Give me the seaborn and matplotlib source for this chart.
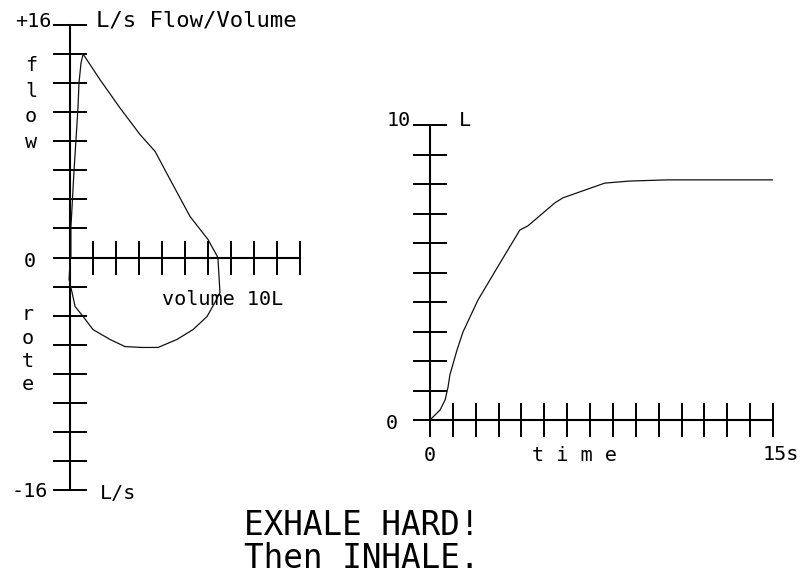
import matplotlib
matplotlib.use("Agg")
import matplotlib.pyplot as plt
import numpy as np
import pandas as pd
import seaborn as sns

# ---- data ----
# flow/volume loop (volume in L, flow in L/s)
fv_volume = [0.00, 0.04, 0.04, 0.09, 0.17, 0.26, 0.35, 0.39, 0.48, 0.57,
             1.30, 2.17, 3.04, 3.70, 4.35, 5.22, 6.00, 6.43,
             6.52, 6.30, 5.96, 5.35, 4.65, 3.83, 3.13, 2.39, 1.74, 1.00,
             0.57, 0.22, 0.09, -0.04, 0.00]
fv_flow = [0.00, 0.00, 2.10, 3.50, 5.85, 8.10, 10.40, 12.00, 13.40, 14.00,
           12.25, 10.30, 8.47, 7.30, 5.37, 2.82, 1.24, 0.00,
           -2.41, -3.10, -4.06, -4.96, -5.64, -6.19, -6.19, -6.13, -5.64, -4.96,
           -4.06, -3.37, -2.41, -1.51, -0.34]

# volume/time curve (time in s, volume in L)
vt_time = [0.00, 0.44, 0.66, 0.79, 0.87, 1.18, 1.44, 2.10, 3.06, 3.93, 4.28,
           5.46, 5.81, 7.64, 8.73, 10.39, 14.98]
vt_volume = [0.00, 0.34, 0.68, 1.12, 1.53, 2.37, 2.98, 4.07, 5.32, 6.44, 6.58,
             7.36, 7.53, 8.03, 8.10, 8.14, 8.14]

flow_ticks = list(range(-16, 17, 2))
fv_volume_ticks = list(range(0, 11))
vt_volume_ticks = list(range(0, 11))
time_ticks = list(range(0, 16))

# ---- style ----
sns.set_style("white")
plt.rcParams['font.family'] = ['DejaVu Sans Mono', 'DejaVu Sans']

W, H = 801, 575
fig = plt.figure(figsize=(W / 100, H / 100), dpi=100)


def box(x0, y0, x1, y1):
    return [x0 / W, 1 - y1 / H, (x1 - x0) / W, (y1 - y0) / H]


def ftext(x, y, s, **kw):
    kw.setdefault('fontsize', 14.5)
    kw.setdefault('color', 'black')
    fig.text(x / W, 1 - y / H, s, **kw)


ax1 = fig.add_axes(box(70, 25, 300, 490))
ax2 = fig.add_axes(box(430, 125, 773, 420))

df_fv = pd.DataFrame({'volume': fv_volume, 'flow': fv_flow})
df_vt = pd.DataFrame({'time': vt_time, 'volume': vt_volume})

sns.lineplot(data=df_fv, x='volume', y='flow', sort=False, estimator=None,
             color='#111111', linewidth=0.9, ax=ax1, clip_on=False)
sns.lineplot(data=df_vt, x='time', y='volume', sort=False, estimator=None,
             color='#111111', linewidth=0.9, ax=ax2, clip_on=False)

ax1.set_xlim(0, 10)
ax1.set_ylim(-16, 16)
ax2.set_xlim(0, 15)
ax2.set_ylim(0, 10)

for ax in (ax1, ax2):
    ax.set_facecolor('none')
    ax.set_xlabel('')
    ax.set_ylabel('')
    ax.spines['top'].set_visible(False)
    ax.spines['right'].set_visible(False)
    for s in ('left', 'bottom'):
        ax.spines[s].set_color('black')
        ax.spines[s].set_linewidth(1.5)
        ax.spines[s].set_zorder(1)

ax1.spines['bottom'].set_position(('data', 0))
ax1.set_xticks(fv_volume_ticks)
ax1.set_yticks(flow_ticks)
ax2.set_xticks(time_ticks)
ax2.set_yticks(vt_volume_ticks)

for ax in (ax1, ax2):
    ax.tick_params(axis='x', bottom=True, direction='inout', length=24,
                   width=1.4, color='black', labelbottom=False)
    ax.tick_params(axis='y', left=True, direction='inout', length=25,
                   width=1.4, color='black', labelleft=False)

# ---- labels ----
ftext(51, 27, "+16", ha='right', va='baseline')
ftext(96, 27, "L/s Flow/Volume", ha='left', va='baseline', fontsize=16)
ftext(31, 56, "f\nl\no\nw", ha='center', va='top', linespacing=1.45)
ftext(30, 267, "0", ha='center', va='baseline')
ftext(28, 305, "r\no\nt\ne", ha='center', va='top', linespacing=1.3)
ftext(48, 497, "-16", ha='right', va='baseline')
ftext(100, 499, "L/s", ha='left', va='baseline')
ftext(162, 305, "volume 10L", ha='left', va='baseline')

ftext(411, 126, "10", ha='right', va='baseline')
ftext(459, 126, "L", ha='left', va='baseline')
ftext(392, 429, "0", ha='center', va='baseline')
ftext(430, 461, "0", ha='center', va='baseline')
ftext(532, 461, "t i m e", ha='left', va='baseline')
ftext(763, 460, "15s", ha='left', va='baseline')

ftext(244, 535, "EXHALE HARD!", ha='left', va='baseline', fontsize=23.5)
ftext(244, 568, "Then INHALE.", ha='left', va='baseline', fontsize=23.5)

fig.savefig("out.png", dpi=100)
